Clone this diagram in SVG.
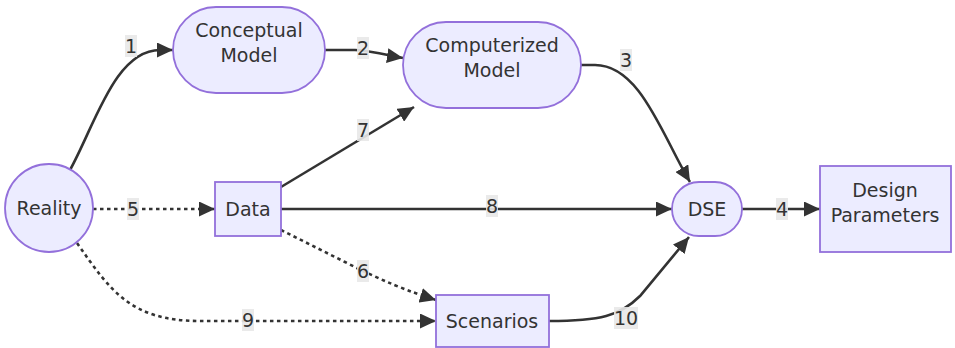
<svg xmlns="http://www.w3.org/2000/svg" width="955" height="348" viewBox="0 0 955 348">
<style>
.node{fill:#ECECFF;stroke:#9370DB;stroke-width:1.8}
.t{font-family:"DejaVu Sans","Liberation Sans",sans-serif;font-size:19px;fill:#333;text-anchor:middle}
.e{fill:none;stroke:#333;stroke-width:2.6}
.d{stroke-dasharray:3.5 3.5}
.lb{fill:#e8e8e8;opacity:0.9}
.lt{font-family:"DejaVu Sans","Liberation Sans",sans-serif;font-size:19px;fill:#333;text-anchor:middle;dominant-baseline:central}
</style>
<defs>
<marker id="ah" viewBox="0 0 10 10" refX="10" refY="5" markerWidth="16" markerHeight="15" markerUnits="userSpaceOnUse" orient="auto" preserveAspectRatio="none">
<path d="M0,0 L10,5 L0,10 z" fill="#333"/>
</marker>
</defs>
<rect width="955" height="348" fill="#fff"/>
<g id="edges">
<path class="e" marker-end="url(#ah)" d="M70,170 C95,125 115,50 160,50 L173,50"/>
<path class="e" marker-end="url(#ah)" d="M325,50 L355,50 C375,51 390,56 403,58"/>
<path class="e" marker-end="url(#ah)" d="M581,65 L595,65 C640,65 662,135 690,182"/>
<path class="e" marker-end="url(#ah)" d="M742,209 L820,209"/>
<path class="e d" marker-end="url(#ah)" d="M93,209 L215,209"/>
<path class="e d" marker-end="url(#ah)" d="M281,230 L345,262 C380,280 410,292 436,300"/>
<path class="e" marker-end="url(#ah)" d="M281,187 L414,107"/>
<path class="e" marker-end="url(#ah)" d="M281,209 L672,209"/>
<path class="e d" marker-end="url(#ah)" d="M77,243 C110,290 130,321 200,321 L436,321"/>
<path class="e" marker-end="url(#ah)" d="M549,321 C600,321 620,316 640,296 L689,237"/>
</g>
<g id="edge-labels">
<rect class="lb" x="125" y="35" width="12" height="22"/><text class="lt" x="131" y="46">1</text>
<rect class="lb" x="357" y="37" width="12" height="22"/><text class="lt" x="363" y="48">2</text>
<rect class="lb" x="620" y="49" width="12" height="22"/><text class="lt" x="626" y="60">3</text>
<rect class="lb" x="776" y="198" width="12" height="22"/><text class="lt" x="782" y="209">4</text>
<rect class="lb" x="127" y="198" width="12" height="22"/><text class="lt" x="133" y="209">5</text>
<rect class="lb" x="357" y="260" width="12" height="22"/><text class="lt" x="363" y="271">6</text>
<rect class="lb" x="357" y="119" width="12" height="22"/><text class="lt" x="363" y="130">7</text>
<rect class="lb" x="486" y="195" width="12" height="22"/><text class="lt" x="492" y="206">8</text>
<rect class="lb" x="242" y="309" width="12" height="22"/><text class="lt" x="248" y="320">9</text>
<rect class="lb" x="614" y="307" width="24" height="22"/><text class="lt" x="626" y="318">10</text>
</g>
<g id="reality"><circle class="node" cx="49" cy="208" r="44"/><text class="lt" x="49" y="208">Reality</text></g>
<g id="conceptual"><rect class="node" x="173" y="7" width="152" height="86" rx="43"/><text class="t" x="249" y="37">Conceptual</text><text class="t" x="249" y="62">Model</text></g>
<g id="computerized"><rect class="node" x="403" y="22" width="178" height="86" rx="43"/><text class="t" x="492" y="52">Computerized</text><text class="t" x="492" y="77">Model</text></g>
<g id="data"><rect class="node" x="215" y="182" width="66" height="54"/><text class="lt" x="248" y="209">Data</text></g>
<g id="dse"><rect class="node" x="672" y="182" width="70" height="54" rx="27"/><text class="lt" x="707" y="209">DSE</text></g>
<g id="design"><rect class="node" x="820" y="166" width="131" height="86"/><text class="t" x="885" y="197">Design</text><text class="t" x="885" y="222">Parameters</text></g>
<g id="scenarios"><rect class="node" x="436" y="295" width="113" height="52"/><text class="lt" x="492" y="321">Scenarios</text></g>
</svg>
